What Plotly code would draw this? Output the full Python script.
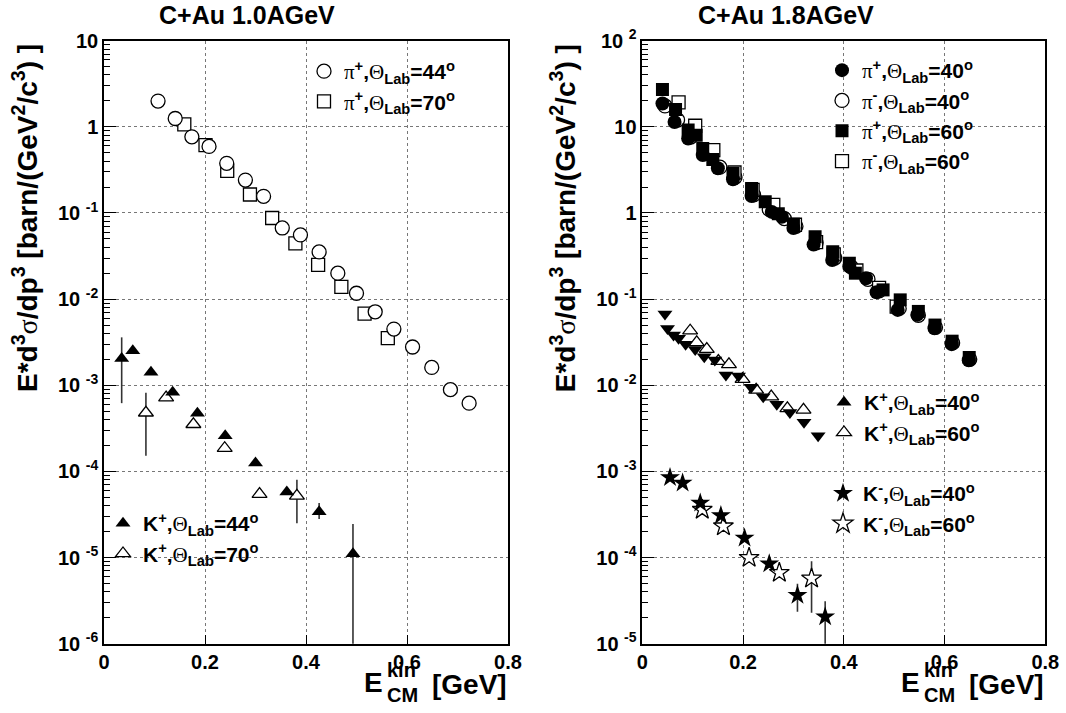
import plotly.graph_objects as go

# ------------------------------------------------------------------ data
# Left panel: C+Au 1.0 AGeV
l_pip44_x = [0.107, 0.141, 0.174, 0.208, 0.243, 0.280, 0.316, 0.353, 0.389, 0.426,
             0.463, 0.500, 0.537, 0.574, 0.611, 0.649, 0.686, 0.723]
l_pip44_y = [1.99, 1.25, 0.766, 0.593, 0.377, 0.241, 0.156, 0.067, 0.0556, 0.0353,
             0.020, 0.0117, 0.00713, 0.00449, 0.00278, 0.00161, 0.00089, 0.00062]

l_pip70_x = [0.159, 0.201, 0.244, 0.289, 0.333, 0.379, 0.424, 0.470, 0.516, 0.562]
l_pip70_y = [1.07, 0.614, 0.309, 0.164, 0.0875, 0.0445, 0.0250, 0.0139, 0.0068, 0.00353]

l_kp44_x = [0.035, 0.057, 0.093, 0.136, 0.185, 0.240, 0.300, 0.362, 0.426, 0.493]
l_kp44_y = [2.05e-3, 2.52e-3, 1.42e-3, 8.3e-4, 4.74e-4, 2.59e-4, 1.25e-4, 5.75e-5, 3.4e-5, 1.11e-5]
l_kp44_hi = [3.6e-3, None, None, None, None, None, None, None, 4.3e-5, 2.45e-5]
l_kp44_lo = [6.2e-4, None, None, None, None, None, None, None, 2.8e-5, 5e-7]

l_kp70_x = [0.083, 0.123, 0.177, 0.239, 0.308, 0.382]
l_kp70_y = [4.8e-4, 7.19e-4, 3.53e-4, 1.86e-4, 5.45e-5, 5.2e-5]
l_kp70_hi = [8.2e-4, None, None, None, None, 8.0e-5]
l_kp70_lo = [1.52e-4, None, None, None, None, 2.5e-5]

# Right panel: C+Au 1.8 AGeV
r_pip40_x = [0.040, 0.064, 0.091, 0.120, 0.150, 0.180, 0.217, 0.257, 0.277, 0.300,
             0.340, 0.377, 0.411, 0.444, 0.465, 0.507, 0.546, 0.580, 0.614, 0.648]
r_pip40_y = [18.7, 11.4, 7.3, 4.7, 3.3, 2.46, 1.57, 1.03, 0.906, 0.67,
             0.43, 0.285, 0.24, 0.175, 0.12, 0.075, 0.066, 0.046, 0.030, 0.0195]

r_pim40_x = [0.045, 0.070, 0.096, 0.124, 0.154, 0.184, 0.221, 0.252, 0.282, 0.305,
             0.345, 0.382, 0.415, 0.448, 0.470, 0.510, 0.548, 0.582, 0.616, 0.650]
r_pim40_y = [17.5, 12.0, 7.6, 4.9, 3.4, 2.6, 1.62, 1.10, 0.86, 0.70,
             0.45, 0.30, 0.235, 0.17, 0.125, 0.078, 0.065, 0.047, 0.031, 0.020]

r_pip60_x = [0.040, 0.066, 0.091, 0.107, 0.120, 0.140, 0.180, 0.217, 0.244, 0.270,
             0.300, 0.343, 0.378, 0.411, 0.423, 0.478, 0.512, 0.548, 0.581, 0.615, 0.649]
r_pip60_y = [27.1, 15.9, 9.2, 8.0, 5.6, 4.19, 2.88, 1.93, 1.35, 0.98,
             0.74, 0.53, 0.356, 0.261, 0.20, 0.128, 0.098, 0.072, 0.050, 0.0325, 0.021]

r_pim60_x = [0.072, 0.105, 0.141, 0.183, 0.219, 0.260, 0.303, 0.345, 0.380, 0.425, 0.470, 0.505]
r_pim60_y = [19.2, 10.3, 5.37, 2.95, 1.85, 1.24, 0.73, 0.46, 0.33, 0.215, 0.135, 0.082]

r_kp40_x = [0.045, 0.050, 0.062, 0.072, 0.086, 0.105, 0.123, 0.144, 0.166, 0.191,
            0.216, 0.240, 0.267, 0.293, 0.321, 0.349]
r_kp40_y = [0.067, 0.0457, 0.0383, 0.0351, 0.0299, 0.0261, 0.0214, 0.0196, 0.0132, 0.0128,
            0.0095, 0.00738, 0.00603, 0.00482, 0.00373, 0.0026]

r_kp60_x = [0.095, 0.108, 0.128, 0.151, 0.172, 0.199, 0.226, 0.256, 0.288, 0.320]
r_kp60_y = [0.043, 0.0315, 0.0263, 0.0191, 0.0175, 0.0118, 0.00883, 0.00738, 0.0054, 0.00518]

r_km40_x = [0.055, 0.080, 0.115, 0.156, 0.203, 0.252, 0.308, 0.363]
r_km40_y = [8.5e-4, 7.33e-4, 4.3e-4, 3.07e-4, 1.69e-4, 8.45e-5, 3.66e-5, 2.06e-5]
r_km40_hi = [None, None, None, None, None, None, 4.95e-5, 3.12e-5]
r_km40_lo = [None, None, None, None, None, None, 2.35e-5, 1e-6]

r_km60_x = [0.119, 0.161, 0.212, 0.272, 0.336]
r_km60_y = [3.6e-4, 2.31e-4, 9.93e-5, 6.65e-5, 5.72e-5]
r_km60_hi = [None, None, None, None, 9.06e-5]
r_km60_lo = [None, None, None, None, 2.28e-5]

x_ticks = [0, 0.2, 0.4, 0.6, 0.8]
x_ticktext = ["0", "0.2", "0.4", "0.6", "0.8"]
l_yticks = [1e-6, 1e-5, 1e-4, 1e-3, 1e-2, 1e-1, 1, 10]
l_yticktext = ["10 <sup>-6</sup>", "10 <sup>-5</sup>", "10 <sup>-4</sup>", "10 <sup>-3</sup>",
               "10 <sup>-2</sup>", "10 <sup>-1</sup>", "1", "10"]
r_yticks = [1e-5, 1e-4, 1e-3, 1e-2, 1e-1, 1, 10, 100]
r_yticktext = ["10 <sup>-5</sup>", "10 <sup>-4</sup>", "10 <sup>-3</sup>", "10 <sup>-2</sup>",
               "10 <sup>-1</sup>", "1", "10", "10 <sup>2</sup>"]

# ------------------------------------------------------------------ helpers
W, H = 1066, 713
FONT = "Liberation Sans"
SERIF = "Liberation Serif"
LX0, LX1 = 104.0, 508.0
RX0, RX1 = 642.3, 1045.3
YT, YB = 40.7, 643.7


def fx(p):
    return p / W


def fy(p):
    return 1 - p / H


PI = '<span style="font-family:%s">π</span>' % SERIF
TH = '<span style="font-family:%s">Θ</span>' % SERIF


def label(part, charge, angle):
    return f'{part}<b><sup>{charge}</sup>,</b>{TH}<b><sub>Lab</sub>={angle}<sup>o</sup></b>'


def mk(symbol, filled, size):
    if filled:
        return dict(symbol=symbol, size=size, color="black", line=dict(color="black", width=0))
    return dict(symbol=symbol, size=size, color="white", line=dict(color="black", width=1.3))


def errs(y, hi, lo):
    up = [(h - v) if h is not None else 0 for v, h in zip(y, hi)]
    dn = [(v - l) if l is not None else 0 for v, l in zip(y, lo)]
    return up, dn


fig = go.Figure()


def add_err(x, y, hi, lo, xa, ya):
    up, dn = errs(y, hi, lo)
    fig.add_trace(go.Scatter(
        x=x, y=y, mode="markers", xaxis=xa, yaxis=ya, showlegend=False,
        marker=dict(size=2, color="rgba(0,0,0,0)"),
        error_y=dict(type="data", array=up, arrayminus=dn, symmetric=False,
                     color="#333", thickness=1.6, width=0),
        hoverinfo="skip"))


def add_pts(x, y, name, marker, xa, ya, legend, rank, showlegend=True):
    fig.add_trace(go.Scatter(
        x=x, y=y, mode="markers", name=name, marker=marker, xaxis=xa, yaxis=ya,
        legend=legend, legendgroup=name, legendrank=rank, showlegend=showlegend))


# ------------------------------------------------------------------ left panel
add_pts(l_pip70_x, l_pip70_y, label(PI, "+", 70), mk("square", False, 13), "x", "y", "legend", 2)
add_pts(l_pip44_x, l_pip44_y, label(PI, "+", 44), mk("circle", False, 14), "x", "y", "legend", 1)
add_err(l_kp44_x, l_kp44_y, l_kp44_hi, l_kp44_lo, "x", "y")
add_err(l_kp70_x, l_kp70_y, l_kp70_hi, l_kp70_lo, "x", "y")
add_pts(l_kp70_x, l_kp70_y, label("<b>K</b>", "+", 70), mk("triangle-up", False, 13), "x", "y", "legend2", 2)
add_pts(l_kp44_x, l_kp44_y, label("<b>K</b>", "+", 44), mk("triangle-up", True, 13), "x", "y", "legend2", 1)

# ------------------------------------------------------------------ right panel
add_pts(r_pim40_x, r_pim40_y, label(PI, "-", 40), mk("circle", False, 14), "x2", "y2", "legend3", 2)
add_pts(r_pim60_x, r_pim60_y, label(PI, "-", 60), mk("square", False, 13), "x2", "y2", "legend3", 4)
add_pts(r_pip60_x, r_pip60_y, label(PI, "+", 60), mk("square", True, 13), "x2", "y2", "legend3", 3)
add_pts(r_pip40_x, r_pip40_y, label(PI, "+", 40), mk("circle", True, 14), "x2", "y2", "legend3", 1)

add_pts(r_kp60_x, r_kp60_y, label("<b>K</b>", "+", 60), mk("triangle-up", False, 13), "x2", "y2", "legend4", 2)
add_pts(r_kp40_x, r_kp40_y, "K+40 data", mk("triangle-down", True, 13), "x2", "y2", "legend4", 3,
        showlegend=False)
add_pts([None], [None], label("<b>K</b>", "+", 40), mk("triangle-up", True, 13), "x2", "y2", "legend4", 1)

add_err(r_km40_x, r_km40_y, r_km40_hi, r_km40_lo, "x2", "y2")
add_err(r_km60_x, r_km60_y, r_km60_hi, r_km60_lo, "x2", "y2")
add_pts(r_km60_x, r_km60_y, label("<b>K</b>", "-", 60), mk("star", False, 15), "x2", "y2", "legend5", 2)
add_pts(r_km40_x, r_km40_y, label("<b>K</b>", "-", 40), mk("star", True, 15), "x2", "y2", "legend5", 1)

# ------------------------------------------------------------------ axes
tickfont = dict(family=FONT, size=20, color="black", weight="bold")
ydom = [fy(YB), fy(YT)]


def xax(x0, x1, anchor):
    return dict(domain=[fx(x0), fx(x1)], anchor=anchor, range=[0, 0.8],
                tickvals=x_ticks, ticktext=x_ticktext, tickfont=tickfont,
                ticks="inside", ticklen=9, tickwidth=1, tickcolor="black",
                showline=True, linecolor="black", linewidth=1.5, mirror=True,
                showgrid=True, gridcolor="#777", griddash="dot", gridwidth=1,
                zeroline=False, automargin=False)


def yax(lo, hi, tv, tt, anchor):
    minor_vals = [k * 10.0 ** e for e in range(lo, hi) for k in range(2, 10)]
    return dict(domain=ydom, anchor=anchor, type="log", range=[lo, hi],
                tickvals=tv, ticktext=tt, tickfont=tickfont,
                ticks="inside", ticklen=12, tickwidth=1, tickcolor="black",
                minor=dict(tickvals=minor_vals, ticks="inside", ticklen=6,
                           tickcolor="black", showgrid=False),
                showline=True, linecolor="black", linewidth=1.5, mirror=True,
                showgrid=True, gridcolor="#777", griddash="dot", gridwidth=1,
                zeroline=False, automargin=False)


legfont = dict(family=FONT, size=21, color="black")


def leg(xp, yp):
    return dict(x=fx(xp), y=fy(yp), xanchor="left", yanchor="top",
                bgcolor="rgba(0,0,0,0)", borderwidth=0, font=legfont,
                itemwidth=30, tracegroupgap=0, traceorder="normal")


fig.update_layout(
    width=W, height=H, margin=dict(l=0, r=0, t=0, b=0, autoexpand=False),
    paper_bgcolor="white", plot_bgcolor="white",
    xaxis=xax(LX0, LX1, "y"), yaxis=yax(-6, 1, l_yticks, l_yticktext, "x"),
    xaxis2=xax(RX0, RX1, "y2"), yaxis2=yax(-5, 2, r_yticks, r_yticktext, "x2"),
    legend=leg(304, 51), legend2=leg(103, 503),
    legend3=leg(822, 50), legend4=leg(824, 382), legend5=leg(823, 473),
    showlegend=True,
)

# ------------------------------------------------------------------ texts
ann = []
ttl = dict(family=FONT, size=25, color="black", weight="bold")
ann.append(dict(text="C+Au 1.0AGeV", x=fx(247), y=fy(15), showarrow=False,
                xref="paper", yref="paper", font=ttl, xanchor="center", yanchor="middle"))
ann.append(dict(text="C+Au 1.8AGeV", x=fx(786), y=fy(15), showarrow=False,
                xref="paper", yref="paper", font=ttl, xanchor="center", yanchor="middle"))

ytitle = ('E*d<sup>3</sup><span style="font-family:%s;font-weight:normal">σ</span>/dp<sup>3</sup> '
          '[barn/(GeV<sup>2</sup>/c<sup>3</sup>) ]') % SERIF
for xc in (25, 25 + (RX0 - LX0)):
    ann.append(dict(text=ytitle, x=fx(xc), y=fy(42), textangle=-90, showarrow=False,
                    xref="paper", yref="paper", xanchor="center", yanchor="top",
                    font=dict(family=FONT, size=28, color="black", weight="bold")))

big = dict(family=FONT, size=28, color="black", weight="bold")
small = dict(family=FONT, size=20, color="black", weight="bold")
for xe in (LX1, RX1):
    ann.append(dict(text="E", x=fx(xe - 123), y=fy(682), xanchor="right", yanchor="middle",
                    showarrow=False, xref="paper", yref="paper", font=big))
    ann.append(dict(text="kin", x=fx(xe - 123), y=fy(670), xanchor="left", yanchor="middle",
                    showarrow=False, xref="paper", yref="paper", font=small))
    ann.append(dict(text="CM", x=fx(xe - 123), y=fy(695), xanchor="left", yanchor="middle",
                    showarrow=False, xref="paper", yref="paper", font=small))
    ann.append(dict(text="[GeV]", x=fx(xe + 1), y=fy(684), xanchor="right", yanchor="middle",
                    showarrow=False, xref="paper", yref="paper", font=big))

fig.update_layout(annotations=ann)
fig.write_html("out.html", config={"displayModeBar": False},
               post_script="document.body.style.margin='0px';document.body.style.overflow='hidden';")
